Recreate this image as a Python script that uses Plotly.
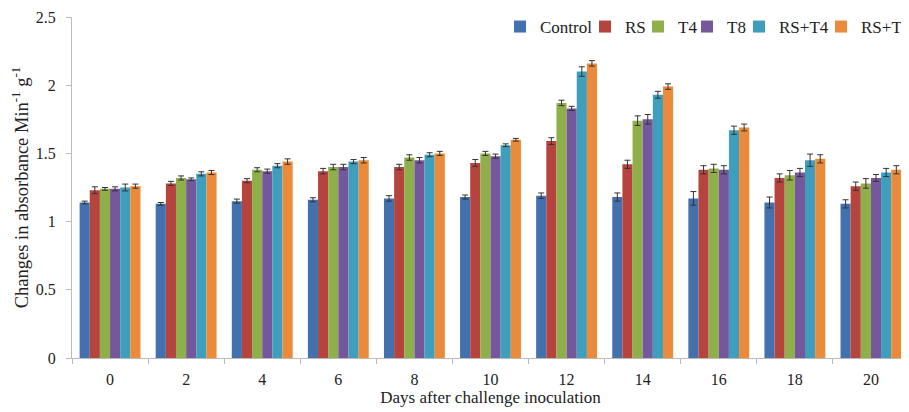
import plotly.graph_objects as go

days = ["0", "2", "4", "6", "8", "10", "12", "14", "16", "18", "20"]
series_names = ["Control", "RS", "T4", "T8", "RS+T4", "RS+T8"]

control = [1.14, 1.13, 1.15, 1.16, 1.17, 1.18, 1.19, 1.18, 1.17, 1.14, 1.13]
rs      = [1.23, 1.28, 1.30, 1.37, 1.40, 1.43, 1.59, 1.42, 1.38, 1.32, 1.26]
t4      = [1.24, 1.32, 1.38, 1.40, 1.47, 1.50, 1.87, 1.74, 1.39, 1.34, 1.28]
t8      = [1.24, 1.31, 1.37, 1.40, 1.45, 1.48, 1.83, 1.75, 1.38, 1.36, 1.32]
rs_t4   = [1.25, 1.35, 1.41, 1.44, 1.49, 1.56, 2.10, 1.93, 1.67, 1.45, 1.36]
rs_t8   = [1.26, 1.36, 1.44, 1.45, 1.50, 1.60, 2.16, 1.99, 1.69, 1.46, 1.38]

err_control = [0.01, 0.01, 0.015, 0.015, 0.02, 0.015, 0.02, 0.03, 0.05, 0.04, 0.03]
err_rs      = [0.025, 0.015, 0.015, 0.02, 0.02, 0.025, 0.025, 0.03, 0.03, 0.03, 0.03]
err_t4      = [0.01, 0.015, 0.015, 0.02, 0.02, 0.015, 0.02, 0.035, 0.03, 0.035, 0.035]
err_t8      = [0.015, 0.01, 0.015, 0.02, 0.02, 0.015, 0.015, 0.035, 0.03, 0.03, 0.025]
err_rs_t4   = [0.025, 0.015, 0.015, 0.015, 0.015, 0.01, 0.035, 0.025, 0.03, 0.045, 0.03]
err_rs_t8   = [0.015, 0.015, 0.02, 0.02, 0.015, 0.01, 0.02, 0.02, 0.025, 0.03, 0.03]

colors = ["#4271AE", "#B5443F", "#8FAF4B", "#74589B", "#3E9EBC", "#EC8A3B"]

values = [control, rs, t4, t8, rs_t4, rs_t8]
errors = [err_control, err_rs, err_t4, err_t8, err_rs_t4, err_rs_t8]

# page pixel where each legend entry's label text starts
legend_text_x = [540, 625, 678, 727, 779, 861]

FONT = "Liberation Serif"
OFF = 8  # default page body margin
W, H = 909 - OFF, 412 - OFF

fig = go.Figure()
legend_layout = {}
for i, (name, vals, errs, col) in enumerate(zip(series_names, values, errors, colors)):
    lname = "legend" if i == 0 else f"legend{i+1}"
    fig.add_trace(go.Bar(
        name=name, x=days, y=vals, marker_color=col,
        marker_line_width=0, legend=lname,
        error_y=dict(type="data", array=errs, visible=True,
                     color="#333333", thickness=1, width=3),
    ))
    legend_layout[lname] = dict(
        xref="container", yref="container",
        x=(legend_text_x[i] - OFF - 40) / W, xanchor="left",
        y=1 - (27 - OFF) / H, yanchor="middle",
        orientation="h", itemwidth=30,
        font=dict(family=FONT, size=17, color="#222222"),
        bgcolor="rgba(0,0,0,0)", borderwidth=0,
    )

fig.update_layout(
    width=W, height=H,
    margin=dict(l=72 - OFF, r=0, t=17 - OFF, b=H - (358 - OFF), autoexpand=False),
    paper_bgcolor="white", plot_bgcolor="white",
    barmode="group", bargap=0.2, bargroupgap=0,
    font=dict(family=FONT, size=16, color="#222222"),
    showlegend=True,
    xaxis=dict(
        type="category", showline=True, linecolor="#BBBBBB", linewidth=1,
        ticks="outside", tickson="boundaries", ticklen=5, tickcolor="#BBBBBB",
        ticklabelstandoff=7,
        showgrid=False, tickfont=dict(family=FONT, size=16), automargin=False,
        title=dict(text="Days after challenge inoculation", standoff=2,
                   font=dict(family=FONT, size=17)),
    ),
    yaxis=dict(
        range=[0, 2.5], tickvals=[0, 0.5, 1, 1.5, 2, 2.5],
        ticktext=["0", "0.5", "1", "1.5", "2", "2.5"],
        showline=True, linecolor="#BBBBBB", linewidth=1,
        ticks="outside", ticklen=5, tickcolor="#BBBBBB", automargin=False,
        ticklabelstandoff=7,
        showgrid=False, zeroline=False, tickfont=dict(family=FONT, size=16),
        title=dict(text="Changes in absorbance Min<sup>-1</sup> g<sup>-1</sup>",
                   standoff=6, font=dict(family=FONT, size=18.5)),
    ),
    **legend_layout,
)

fig.write_html("out.html")
